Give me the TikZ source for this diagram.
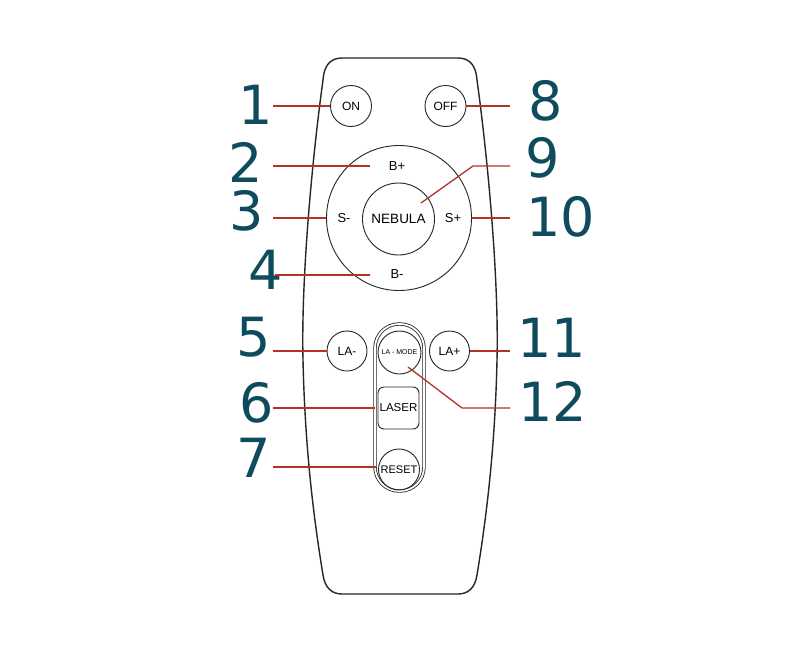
\documentclass[tikz,border=0pt]{standalone}
\usepackage{fontspec}
\setmainfont{Liberation Sans}
\newfontfamily\numfont{DejaVu Sans}
\definecolor{teal}{HTML}{0E4B5D}
\definecolor{leadred}{HTML}{B5322A}
\begin{document}
\begin{tikzpicture}[x=1pt,y=-1pt,
  body/.style={draw=black!85,line width=1.4pt},
  btn/.style={circle,draw=black!85,line width=0.9pt,inner sep=0pt,minimum size=41pt},
  lbl/.style={inner sep=0pt,font=\fontsize{13}{14}\selectfont},
  num/.style={inner sep=0pt,text=teal,font=\numfont\fontsize{54}{56}\selectfont},
  lead/.style={draw=leadred,line width=1.3pt}]
\useasboundingbox (0,0) rectangle (800,667);
\fill[white] (0,0) rectangle (800,667);
% remote body
\draw[body] (342,58) -- (458,58) .. controls (470,58) and (476,66) .. (477,80)
  .. controls (488,160) and (499,280) .. (497,360)
  .. controls (495,450) and (486,520) .. (477,575)
  .. controls (475,588) and (468,594) .. (458,594) -- (342,594)
  .. controls (332,594) and (325,588) .. (323,575)
  .. controls (314,520) and (305,450) .. (303,360)
  .. controls (301,280) and (312,160) .. (323,80)
  .. controls (324,66) and (330,58) .. (342,58) -- cycle;
% buttons
\node[btn] (on) at (351,106) {\fontsize{12}{13}\selectfont ON};
\node[btn] (off) at (445.5,106) {\fontsize{12}{13}\selectfont OFF};
\node[circle,draw=black!85,line width=0.9pt,minimum size=145pt,inner sep=0pt] (ring) at (399,218) {};
\node[circle,draw=black!85,line width=0.9pt,minimum size=72pt,inner sep=0pt] (neb) at (398.5,219) {};
\node[lbl] (nebt) at (398.5,219) {\fontsize{13.5}{14}\selectfont NEBULA};
\node[lbl] (bp) at (397,166) {B+};
\node[lbl] (bm) at (397,274) {B-};
\node[lbl] (sm) at (344,218) {S-};
\node[lbl] (sp) at (453,218) {S+};
\node[draw=black!85,line width=0.8pt,double,double distance=1.8pt,rounded corners=24pt,minimum width=49pt,minimum height=167pt,inner sep=0pt] (pill) at (399.5,407.5) {};
\node[btn,minimum size=40pt] (lam) at (347,351) {\fontsize{12}{13}\selectfont LA-};
\node[btn,minimum size=40pt] (lap) at (449.5,351) {\fontsize{12}{13}\selectfont LA+};
\node[btn,minimum size=43pt] (mode) at (399.5,352.5) {\fontsize{7}{8}\selectfont LA - MODE};
\node[draw=black!85,line width=0.9pt,rounded corners=6pt,minimum width=41pt,minimum height=42pt,inner sep=0pt] (laser) at (398.5,408) {\fontsize{11.5}{12}\selectfont LASER};
\node[btn] (reset) at (399,469.5) {\fontsize{11}{12}\selectfont RESET};
% numbers
\node[num] (n1) at (256,105) {1};
\node[num] (n2) at (246,162) {2};
\node[num] (n3) at (247,211) {3};
\node[num] (n4) at (266,270) {4};
\node[num] (n5) at (254,337) {5};
\node[num] (n6) at (257,403) {6};
\node[num] (n7) at (254,458) {7};
\node[num] (n8) at (546,101) {8};
\node[num] (n9) at (543,158) {9};
\node[num] (n10) at (561,217) {10};
\node[num] (n11) at (552,338) {11};
\node[num] (n12) at (553,401) {12};
% lead ends
\coordinate (a1) at (273,106);
\coordinate (a2) at (273,166);
\coordinate (b2) at (370,166);
\coordinate (a3) at (273,218);
\coordinate (a4) at (275,275);
\coordinate (b4) at (370,275);
\coordinate (a5) at (273,351);
\coordinate (a6) at (273,408);
\coordinate (a7) at (273,467);
\coordinate (b7) at (376,467);
\coordinate (a8) at (510,106);
\coordinate (k9) at (473,166);
\coordinate (a9) at (510,166);
\coordinate (b9) at (421,203);
\coordinate (a10) at (510,218);
\coordinate (a11) at (510,351);
\coordinate (k12) at (462,408);
\coordinate (a12) at (510,408);
\coordinate (b12) at (408,367);
% leads
\draw[lead] (a1) -- (on.west |- a1);
\draw[lead] (a2) -- (b2);
\draw[lead] (a3) -- (ring.west |- a3);
\draw[lead] (a4) -- (b4);
\draw[lead] (a5) -- (lam.west |- a5);
\draw[lead] (a6) -- (pill.west |- a6);
\draw[lead] (a7) -- (b7);
\draw[lead] (off.east |- a8) -- (a8);
\draw[lead] (b9) -- (k9) -- (a9);
\draw[lead] (ring.east |- a10) -- (a10);
\draw[lead] (lap.east |- a11) -- (a11);
\draw[lead] (b12) -- (k12) -- (a12);
\end{tikzpicture}
\end{document}
